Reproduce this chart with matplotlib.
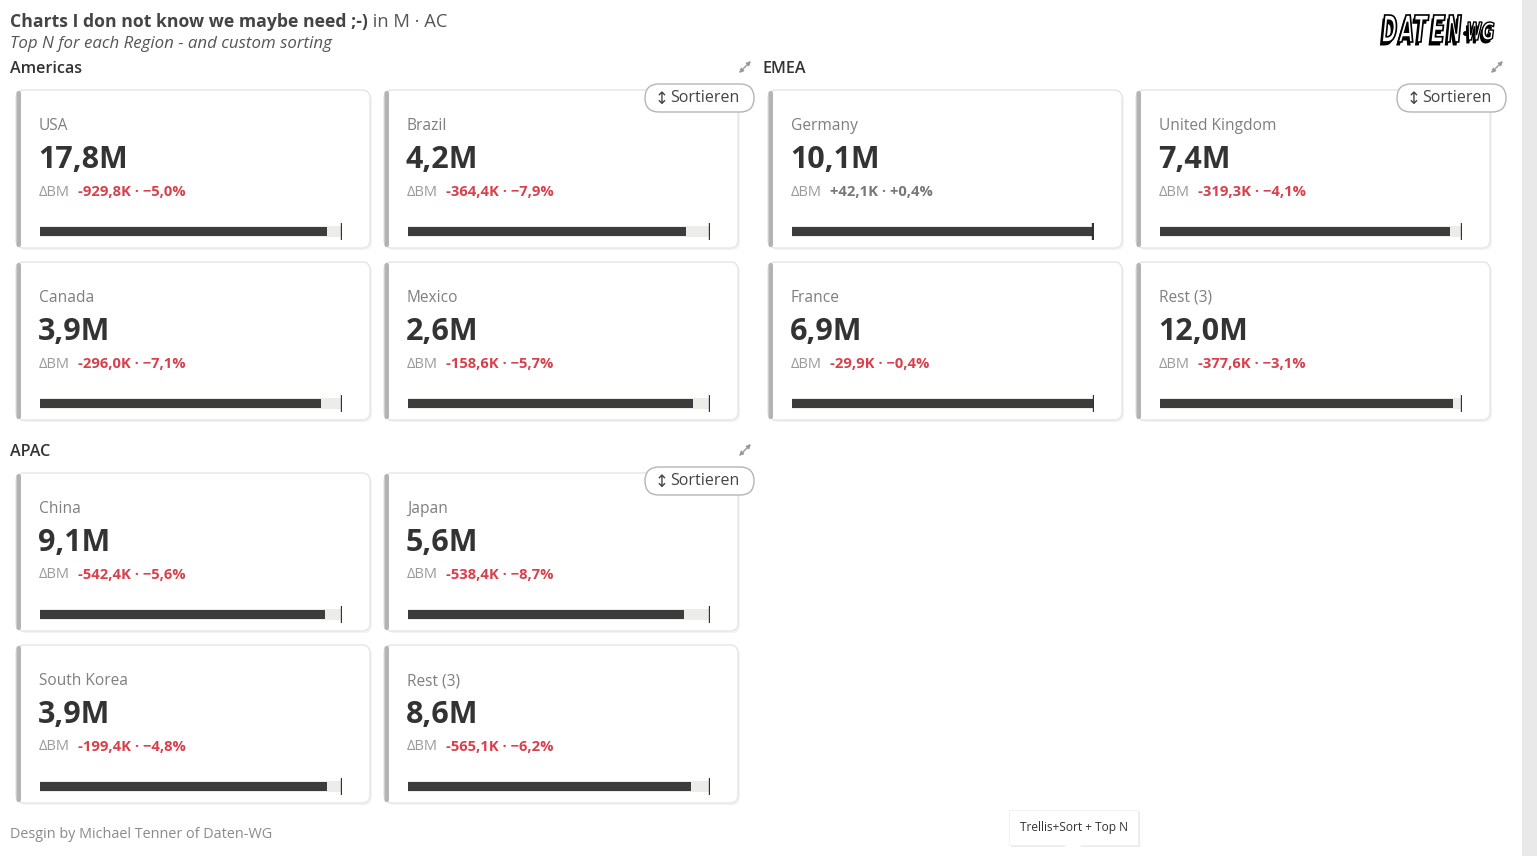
import matplotlib
matplotlib.use("Agg")
import matplotlib.pyplot as plt
from matplotlib.patches import FancyBboxPatch, Rectangle, Polygon, PathPatch
from matplotlib.textpath import TextPath
from matplotlib.font_manager import FontProperties
from matplotlib.transforms import Affine2D
import matplotlib.patheffects as pe

plt.rcParams['font.family'] = ['Open Sans', 'DejaVu Sans']

# data (AC in M, delta vs BM in K, delta in %)
americas_names = ["USA", "Brazil", "Canada", "Mexico"]
americas_ac = [17.8, 4.2, 3.9, 2.6]
americas_delta = [-929.8, -364.4, -296.0, -158.6]
americas_pct = [-5.0, -7.9, -7.1, -5.7]

emea_names = ["Germany", "United Kingdom", "France", "Rest (3)"]
emea_ac = [10.1, 7.4, 6.9, 12.0]
emea_delta = [42.1, -319.3, -29.9, -377.6]
emea_pct = [0.4, -4.1, -0.4, -3.1]

apac_names = ["China", "Japan", "South Korea", "Rest (3)"]
apac_ac = [9.1, 5.6, 3.9, 8.6]
apac_delta = [-542.4, -538.4, -199.4, -565.1]
apac_pct = [-5.6, -8.7, -4.8, -6.2]

regions = [
    ("Americas", americas_names, americas_ac, americas_delta, americas_pct),
    ("EMEA", emea_names, emea_ac, emea_delta, emea_pct),
    ("APAC", apac_names, apac_ac, apac_delta, apac_pct),
]

W, H = 1537, 856
fig = plt.figure(figsize=(W / 100, H / 100), dpi=100)
ax = fig.add_axes([0, 0, 1, 1])
ax.set_xlim(0, W)
ax.set_ylim(H, 0)
ax.axis('off')

DARK = "#333333"
GREY = "#7f7f7f"
RED = "#d8404b"

# right grey strip
ax.add_patch(Rectangle((1522, 0), 15, H, color="#e9e9e9", lw=0))

# titles
t1 = ax.text(10, 22, "Charts I don not know we maybe need ;-)", fontsize=12.7,
             fontweight='bold', color="#444444", va='center')
ax.annotate(" in M · AC", xy=(1, 0), xycoords=t1, va='bottom', fontsize=13.2,
            color="#555555")
ax.text(10, 44, "Top N for each Region - and custom sorting", fontsize=12.2,
        style='italic', color="#555555", va='center')
ax.text(10, 835, "Desgin by Michael Tenner of Daten-WG", fontsize=10.4,
        color="#8a8a8a", va='center')


def fmt(v, dec=1):
    return f"{abs(v):.{dec}f}".replace('.', ',')


def logo_piece(s, x0, y0, w, h, lw=1.0):
    tp = TextPath((0, 0), s, size=1,
                  prop=FontProperties(family='DejaVu Sans', weight='bold', style='italic'))
    ext = tp.get_extents()
    tr = (Affine2D().translate(-ext.x0, -ext.y0)
          .scale(w / ext.width, -h / ext.height)
          .translate(x0, y0 + h))
    p = tr.transform_path(tp)
    patch = PathPatch(p, facecolor='white', edgecolor='black', lw=lw, zorder=5)
    patch.set_path_effects([pe.SimplePatchShadow(offset=(-1.5, -2.5), shadow_rgbFace='black', alpha=1),
                            pe.Normal()])
    ax.add_patch(patch)


for k, ch in enumerate("DATEN"):
    logo_piece(ch, 1382 + k * 16.2, 15, 14.5, 27, lw=1.2)
ax.plot([1465], [33], 'o', ms=2.5, color='black', zorder=6)
logo_piece("W", 1468, 22, 14, 18)
logo_piece("G", 1482, 22, 12, 18)


def sort_button(x, y):
    ax.add_patch(FancyBboxPatch((x, y), 109, 28, boxstyle="round,pad=0,rounding_size=14",
                                fc='white', ec="#b5b5b5", lw=1.0, zorder=4))
    ax.text(x + 17, y + 15, "↕", fontsize=12, color="#444444", va='center', ha='center',
            family=['DejaVu Sans'], zorder=5)
    ax.text(x + 25, y + 14, "Sortieren", fontsize=11.5, color="#444444", va='center', zorder=5)


def expand_icon(x, y):
    ax.annotate("", xy=(x + 12, y - 6), xytext=(x, y + 6),
                arrowprops=dict(arrowstyle='<|-|>', color="#999999", lw=1.0,
                                mutation_scale=6, shrinkA=0, shrinkB=0))


card_w, card_h = 354, 158
origins = [(16, 90), (768, 90), (16, 473)]

for (region, names, ac, delta, pct), (ox, oy) in zip(regions, origins):
    ax.text(ox - 6, oy - 21, region, fontsize=11.6, fontweight='semibold', color="#333333",
            va='center')
    expand_icon(ox + 723, oy - 23)
    for i in range(4):
        cx = ox + (i % 2) * 368
        cy = oy + (i // 2) * 172
        ax.add_patch(FancyBboxPatch((cx + 2, cy + 2), card_w, card_h,
                                    boxstyle="round,pad=0,rounding_size=8",
                                    fc="#f3f3f3", ec='none', zorder=1))
        ax.add_patch(FancyBboxPatch((cx, cy), card_w, card_h,
                                    boxstyle="round,pad=0,rounding_size=8",
                                    fc='white', ec="#e6e6e6", lw=1.0, zorder=2))
        ax.add_patch(FancyBboxPatch((cx + 0.5, cy + 1), 4.5, card_h - 2,
                                    boxstyle="round,pad=0,rounding_size=2.2",
                                    fc="#b3b3b3", ec='none', zorder=3))
        ax.text(cx + 23, cy + 36, names[i], fontsize=11.2, color=GREY, va='center', zorder=4)
        ax.text(cx + 22, cy + 70, fmt(ac[i]) + "M", fontsize=22, fontweight='bold',
                color=DARK, va='center', zorder=4)
        ax.text(cx + 23, cy + 102, "ΔBM", fontsize=10.5, color="#9a9a9a", va='center', zorder=4)
        sgn = "+" if delta[i] > 0 else "-"
        psgn = "+" if pct[i] > 0 else "−"
        col = "#777777" if delta[i] > 0 else RED
        ax.text(cx + 62, cy + 102, f"{sgn}{fmt(delta[i])}K · {psgn}{fmt(pct[i])}%",
                fontsize=10.6, fontweight='bold', color=col, va='center', zorder=4)

        # bullet bar: AC vs BM
        bm = ac[i] - delta[i] / 1000.0
        bx0, bx1 = cx + 24, cx + 326
        by0, by1 = cy + 133, cy + 150
        bax = fig.add_axes([bx0 / W, 1 - by1 / H, (bx1 - bx0) / W, (by1 - by0) / H])
        bax.set_xlim(0, max(ac[i], bm))
        bax.set_ylim(-0.5, 0.5)
        bax.axis('off')
        bax.barh(0, bm, height=0.66, color="#ecece8", lw=0)
        bax.barh(0, ac[i], height=0.5, color="#3c3c3c", lw=0)
        bax.vlines(bm, -0.5, 0.5, color="#333333", lw=1.7)
    sort_button(ox + 629, oy - 6)

# tooltip
ax.add_patch(Rectangle((1011, 812), 129, 35, fc="#eaeaea", ec='none', zorder=6))
ax.add_patch(Rectangle((1009, 810), 129, 35, fc='white', ec="#f0f0f0", lw=0.6, zorder=7))
ax.add_patch(Polygon([(1064, 845), (1082, 845), (1073, 854)], closed=True, fc='white',
                     ec='none', zorder=7))
ax.text(1073.5, 827.5, "Trellis+Sort + Top N", fontsize=8.6, color="#333333", ha='center',
        va='center', zorder=8)

fig.savefig("out.png", dpi=100, facecolor='white')
